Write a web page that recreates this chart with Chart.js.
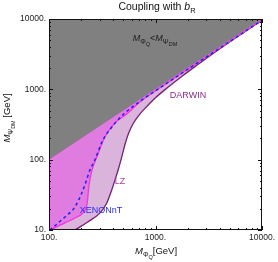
<!DOCTYPE html>
<html>
<head>
<meta charset="utf-8">
<script src="https://cdn.jsdelivr.net/npm/chart.js@4.4.1/dist/chart.umd.min.js"></script>
<style>
  html, body { margin: 0; padding: 0; background: #fff; }
  #wrap { width: 278px; height: 262px; }
</style>
</head>
<body>
<div id="wrap"><canvas id="c" width="278" height="262"></canvas></div>
<script>
// tick labels
const xTicks = [100, 1000, 10000];
const yTicks = [10, 100, 1000, 10000];
const xMinor = [200, 300, 400, 500, 600, 700, 800, 900, 2000, 3000, 4000, 5000, 6000, 7000, 8000, 9000];
const yMinor = [20, 30, 40, 50, 60, 70, 80, 90, 200, 300, 400, 500, 600, 700, 800, 900,
                2000, 3000, 4000, 5000, 6000, 7000, 8000, 9000];

// M_PhiQ = M_PsiDM boundary
const diagX = [100, 10000];
const diagY = [100, 10000];

// DARWIN projection
const darwinX = [175, 231, 300, 348, 388, 414, 450, 481, 520, 560, 620, 700, 800, 1000, 1300, 1800, 2500, 3500, 5000, 7000, 10000];
const darwinY = [10, 13, 17.4, 24, 37, 50, 75, 108, 170, 240, 330, 430, 540, 760, 1060, 1560, 2250, 3250, 4750, 6700, 9650];

// LZ
const lzX = [101, 141, 183, 210, 226, 232, 236, 244, 256, 281, 334, 414, 547, 708, 918, 1300, 2000, 4000, 10000];
const lzY = [10, 12.6, 15.3, 17.6, 22, 30, 40, 55, 75, 108, 208, 330, 457, 654, 870, 1245, 1920, 3840, 9600];

// XENONnT
const xenonX = [102, 141, 175, 203, 222, 242, 269, 320, 388, 513, 740, 1100, 2000, 5000, 10000];
const xenonY = [10, 15.3, 21.2, 33.5, 48, 71, 98, 189, 289, 457, 700, 1050, 1920, 4800, 9600];

const pts = (xs, ys) => xs.map((x, i) => ({ x, y: ys[i] }));
const FONT = '"Liberation Sans", Arial, sans-serif';

// draw text made of runs: [text, size, italic, dy]
function drawRuns(ctx, parts, x, y, color) {
  const fnt = p => (p[2] ? 'italic ' : '') + p[1] + 'px ' + FONT;
  let w = 0;
  parts.forEach(p => { ctx.font = fnt(p); w += ctx.measureText(p[0]).width; });
  let cx = x - w / 2;
  ctx.fillStyle = color;
  ctx.textAlign = 'left';
  ctx.textBaseline = 'alphabetic';
  parts.forEach(p => {
    ctx.font = fnt(p);
    ctx.fillText(p[0], cx, y + (p[3] || 0));
    cx += ctx.measureText(p[0]).width;
  });
}

const framePlugin = {
  id: 'frame',
  afterDraw(chart) {
    const ctx = chart.ctx, a = chart.chartArea;
    const xs = chart.scales.x, ys = chart.scales.y;
    ctx.save();
    ctx.strokeStyle = '#111';
    ctx.lineWidth = 1;
    ctx.strokeRect(a.left + 0.5, a.top + 0.5, a.right - a.left - 1, a.bottom - a.top - 1);

    ctx.beginPath();
    const tickX = (v, len) => {
      const p = Math.round(xs.getPixelForValue(v)) + 0.5;
      ctx.moveTo(p, a.bottom); ctx.lineTo(p, a.bottom - len);
      ctx.moveTo(p, a.top); ctx.lineTo(p, a.top + len);
    };
    const tickY = (v, len) => {
      const p = Math.round(ys.getPixelForValue(v)) + 0.5;
      ctx.moveTo(a.left, p); ctx.lineTo(a.left + len, p);
      ctx.moveTo(a.right, p); ctx.lineTo(a.right - len, p);
    };
    xTicks.forEach(v => tickX(v, 4));
    xMinor.forEach(v => tickX(v, 2));
    yTicks.forEach(v => tickY(v, 4));
    yMinor.forEach(v => tickY(v, 2));
    ctx.stroke();

    // title
    drawRuns(ctx, [['Coupling with ', 10.5], ['b', 10.5, true], ['R', 7.5, false, 2.5]], 157, 10, '#111');
    // region label
    drawRuns(ctx, [['M', 9, true], ['Φ', 7, false, 2.5], ['Q', 5.5, false, 4.5], ['<', 9],
                   ['M', 9, true], ['Ψ', 7, false, 2.5], ['DM', 5.5, false, 4.5]], 155, 41, '#1a1a1a');
    // x axis title
    drawRuns(ctx, [['M', 9.5, true], ['Φ', 7, false, 2.5], ['Q', 5.5, false, 4.5], ['[GeV]', 9.5]], 156, 254, '#111');
    // y axis title
    ctx.save();
    ctx.translate(10, 118);
    ctx.rotate(-Math.PI / 2);
    drawRuns(ctx, [['M', 9.5, true], ['Ψ', 7, false, 2.5], ['DM', 5.5, false, 4.5], [' [GeV]', 9.5]], 0, 0, '#111');
    ctx.restore();

    // curve labels
    drawRuns(ctx, [['DARWIN', 9]], 188, 98, '#8a2a8a');
    drawRuns(ctx, [['LZ', 9]], 120, 184, '#b040a8');
    drawRuns(ctx, [['XENONnT', 9]], 101, 213, '#2a2af5');
    ctx.restore();
  }
};

const lineBase = { pointRadius: 0, cubicInterpolationMode: 'monotone', backgroundColor: 'transparent' };

new Chart(document.getElementById('c'), {
  type: 'line',
  data: {
    datasets: [
      { ...lineBase, label: 'excluded', data: pts(diagX, diagY), borderColor: 'transparent',
        backgroundColor: '#808080', fill: 'end', order: 0 },
      { ...lineBase, label: 'XENONnT', data: pts(xenonX, xenonY), borderColor: '#2020f0',
        borderWidth: 1.5, borderDash: [3, 3], fill: false, order: 1 },
      { ...lineBase, label: 'LZ', data: pts(lzX, lzY), borderColor: '#ff2cf0',
        borderWidth: 1.3, fill: false, order: 2 },
      { ...lineBase, label: 'DARWIN', data: pts(darwinX, darwinY), borderColor: '#7a1c7a',
        borderWidth: 1.3, fill: false, order: 3 },
      { ...lineBase, label: 'LZ area', data: [{ x: 100, y: 10 }, ...pts(lzX, lzY)], borderColor: 'transparent',
        backgroundColor: '#e07ce0', fill: 'end', order: 4 },
      { ...lineBase, label: 'DARWIN area', data: [{ x: 100, y: 10 }, ...pts(darwinX, darwinY)], borderColor: 'transparent',
        backgroundColor: '#dab4da', fill: 'end', order: 5 }
    ]
  },
  options: {
    responsive: false,
    animation: false,
    layout: { padding: { top: 19, right: 15, left: 0, bottom: 0 } },
    plugins: { legend: { display: false }, tooltip: { enabled: false } },
    scales: {
      x: {
        type: 'logarithmic', min: 100, max: 10000,
        grid: { display: false, drawTicks: false },
        border: { display: false },
        afterBuildTicks: s => { s.ticks = xTicks.map(v => ({ value: v })); },
        afterFit: s => { s.height = 32; },
        ticks: { padding: 3, maxRotation: 0, autoSkip: false, color: '#222',
                 font: { family: FONT, size: 8.5 }, callback: v => v + '.' }
      },
      y: {
        type: 'logarithmic', min: 10, max: 10000,
        grid: { display: false, drawTicks: false },
        border: { display: false },
        afterBuildTicks: s => { s.ticks = yTicks.map(v => ({ value: v })); },
        afterFit: s => { s.width = 49; },
        ticks: { padding: 3, autoSkip: false, color: '#222',
                 font: { family: FONT, size: 8.5 }, callback: v => v + '.' }
      }
    }
  },
  plugins: [framePlugin]
});
</script>
</body>
</html>
